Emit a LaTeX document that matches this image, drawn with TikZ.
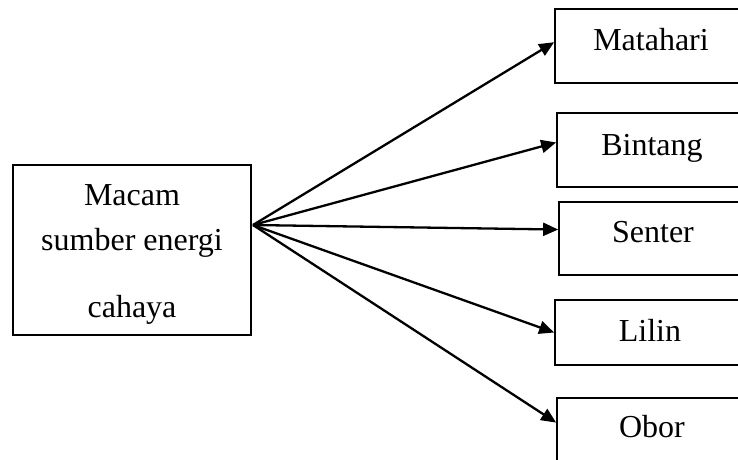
\documentclass[tikz,border=0pt]{standalone}
\usepackage{fontspec}
\setmainfont{Liberation Serif}
\usetikzlibrary{arrows.meta,calc}
\begin{document}
\begin{tikzpicture}[x=1pt,y=-1pt,
  box/.style={draw,line width=1.7pt,inner sep=0pt},
  txt/.style={font=\fontsize{32}{38}\selectfont,inner sep=0pt,anchor=base},
  arr/.style={line width=2.3pt,-{Triangle[length=15pt,width=13pt]}}]
\useasboundingbox (0,0) rectangle (738,459);
% source box
\node[box,minimum width=238pt,minimum height=170pt] (src) at (132,250) {};
\node[txt] (s1) at (132,205) {Macam};
\node[txt] (s2) at (132,250) {sumber energi};
\node[txt] (s3) at (132,317) {cahaya};
\coordinate (o) at (253,225);
% target boxes
\node[box,minimum width=191pt,minimum height=74pt] (m) at (650.5,46) {};
\node[txt] (mt) at (651,50) {Matahari};
\node[box,minimum width=189pt,minimum height=74pt] (b) at (651.5,150) {};
\node[txt] (bt) at (652,155) {Bintang};
\node[box,minimum width=187pt,minimum height=73pt] (se) at (652.5,238.5) {};
\node[txt] (st) at (653,242) {Senter};
\node[box,minimum width=191pt,minimum height=65pt] (l) at (650.5,332.5) {};
\node[txt] (lt) at (650,341) {Lilin};
\node[box,minimum width=189pt,minimum height=100pt] (ob) at (651.5,448) {};
\node[txt] (ot) at (652,437) {Obor};
% arrows
\draw[arr] (o) -- ($(m.north west)!0.45!(m.south west)$);
\draw[arr] (o) -- ($(b.north west)!0.40!(b.south west)$);
\draw[arr] (o) -- ($(se.north west)!0.38!(se.south west)$);
\draw[arr] (o) -- ($(l.north west)!0.5!(l.south west)$);
\draw[arr] (o) -- ($(ob.north west)!0.25!(ob.south west)$);
\end{tikzpicture}
\end{document}
